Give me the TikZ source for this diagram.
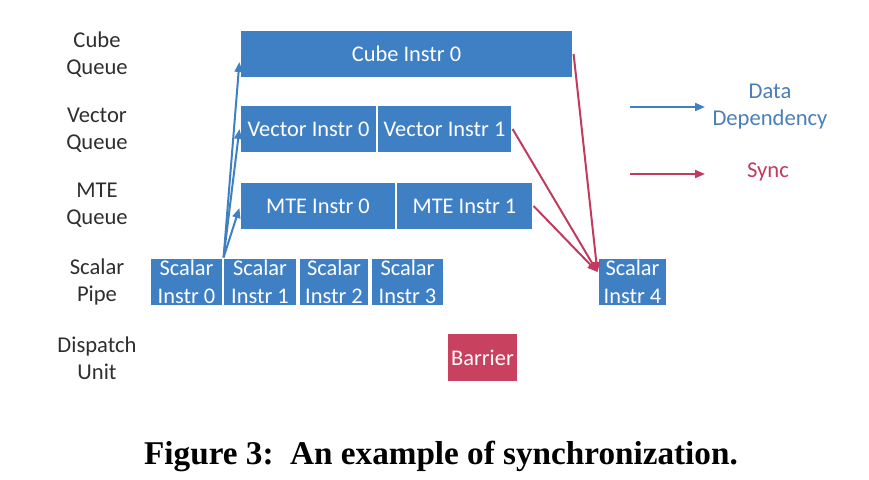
\documentclass[tikz,border=0pt]{standalone}
\usepackage{fontspec}
\setmainfont{Carlito}
\newfontfamily\capfont{Liberation Serif}
\usetikzlibrary{arrows.meta}
\definecolor{boxblue}{HTML}{3F7FC4}
\definecolor{syncred}{HTML}{C23A5E}
\definecolor{barrierred}{HTML}{C8415F}
\definecolor{lblgray}{HTML}{2E2E2E}
\definecolor{legblue}{HTML}{4A7EB8}
\tikzset{
  box/.style={rectangle, fill=boxblue, draw=white, line width=0.6pt, inner sep=0pt,
    minimum height=24pt, text=white, font=\fontsize{11.2}{14}\selectfont, align=center},
  lbl/.style={text=lblgray, font=\fontsize{11.3}{13.5}\selectfont, align=center, inner sep=0pt},
  dataarrow/.style={draw=boxblue, line width=1pt, -{Triangle[length=5pt,width=4pt]}},
  syncarrow/.style={draw=syncred, line width=1pt, -{Triangle[length=5pt,width=4pt]}},
}
\begin{document}
\begin{tikzpicture}[x=0.5pt,y=-0.5pt]
\useasboundingbox (0,0) rectangle (869,480);
% row labels
\node[lbl] (lcube) at (97,55) {Cube\\Queue};
\node[lbl] (lvec) at (97,130) {Vector\\Queue};
\node[lbl] (lmte) at (97,205) {MTE\\Queue};
\node[lbl] (lscal) at (97,282) {Scalar\\Pipe};
\node[lbl] (ldisp) at (97,358) {Dispatch\\Unit};
% boxes
\node[box, minimum width=166.5pt] (cube) at (406.5,54) {Cube Instr 0};
\node[box, minimum width=68.5pt] (v0) at (308.5,129) {Vector Instr 0};
\node[box, minimum width=67.5pt] (v1) at (444.5,129) {Vector Instr 1};
\node[box, minimum width=78pt] (m0) at (318,206) {MTE Instr 0};
\node[box, minimum width=68.5pt] (m1) at (464.5,206) {MTE Instr 1};
\node[box, minimum width=36.5pt] (s0) at (186.5,282) {Scalar\\Instr 0};
\node[box, minimum width=37pt] (s1) at (260,282) {Scalar\\Instr 1};
\node[box, minimum width=35pt] (s2) at (334,282) {Scalar\\Instr 2};
\node[box, minimum width=36.5pt] (s3) at (407.5,282) {Scalar\\Instr 3};
\node[box, minimum width=34.5pt] (s4) at (632.5,282) {Scalar\\Instr 4};
\node[box, fill=barrierred, minimum width=35.5pt, minimum height=24.5pt] (bar) at (482.5,357.5) {Barrier};
% data dependencies
\draw[dataarrow] (s0.north east) -- ([yshift=-4pt]cube.west);
\draw[dataarrow] (s0.north east) -- (v0.west);
\draw[dataarrow] (s0.north east) -- ([yshift=-1pt]m0.west);
% sync
\draw[syncarrow] (cube.east) -- ([yshift=5pt]s4.west);
\draw[syncarrow] (v1.east) -- ([yshift=5pt]s4.west);
\draw[syncarrow] (m1.east) -- ([yshift=5pt]s4.west);
% legend
\coordinate (lb1) at (630,107);
\coordinate (lb2) at (705,107);
\coordinate (lr1) at (630,174);
\coordinate (lr2) at (705,174);
\draw[dataarrow] (lb1) -- (lb2);
\draw[syncarrow] (lr1) -- (lr2);
\node[lbl, text=legblue] (ldata) at (770,107) {Data\\Dependency};
\node[lbl, text=syncred] (lsync) at (768,172) {Sync};
% caption
\node[inner sep=0pt, font=\capfont\bfseries\fontsize{16.6}{19}\selectfont] (cap) at (441,456) {Figure 3:\ \ An example of synchronization.};
\end{tikzpicture}
\end{document}
